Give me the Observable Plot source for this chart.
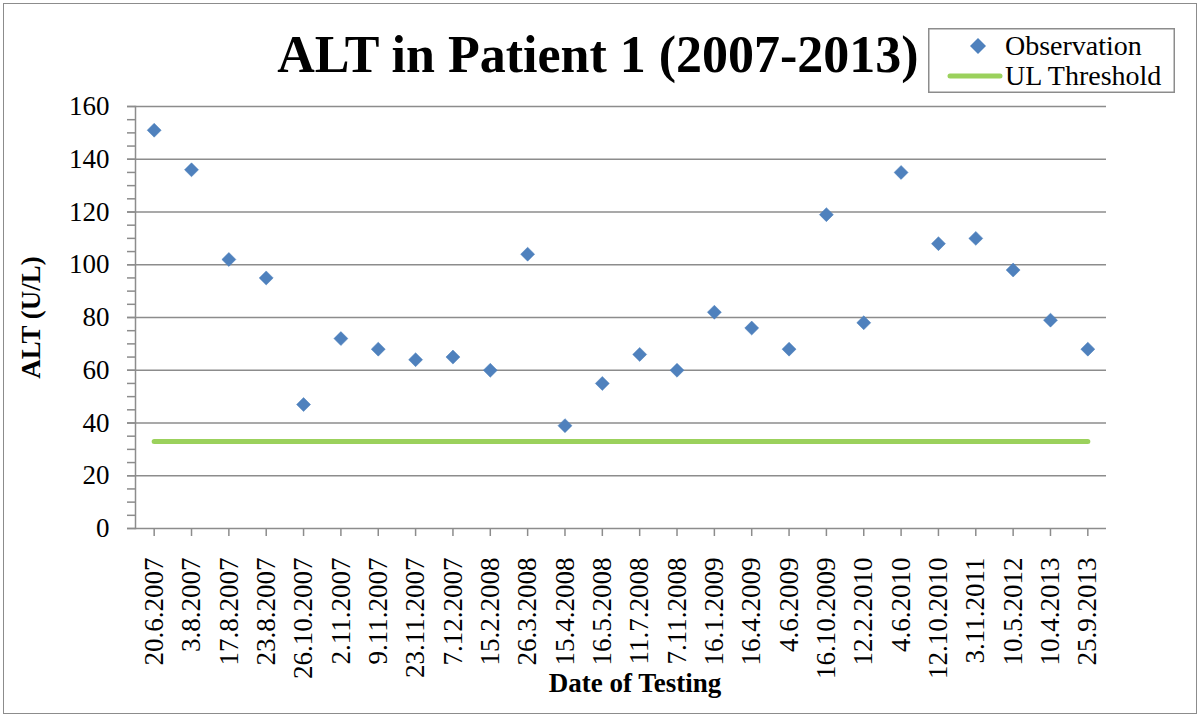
<!DOCTYPE html>
<html>
<head>
<meta charset="utf-8">
<script src="https://cdn.jsdelivr.net/npm/d3@7"></script>
<script src="https://cdn.jsdelivr.net/npm/@observablehq/plot@0.6"></script>
<style>
  body { margin: 0; background: #fff; }
  #wrap { position: relative; width: 1200px; height: 717px; font-family: "Liberation Serif", serif; overflow: hidden; }
  #border { position: absolute; left: 3px; top: 3px; width: 1194px; height: 711px; border: 1.5px solid #8c8c8c; box-sizing: border-box; pointer-events: none; }
  #title { position: absolute; left: 0; top: 29px; width: 1196px; text-align: center; font-weight: bold; font-size: 52px; line-height: 52px; white-space: nowrap; }
  #legend { position: absolute; left: 928px; top: 28px; }
  #chart { position: absolute; left: 0; top: 0; }
  #chart svg [aria-label="y-axis label"] text { font-weight: bold; }
</style>
</head>
<body>
<div id="wrap">
  <div id="chart"></div>
  <div id="title">ALT in Patient 1 (2007-2013)</div>
  <div id="legend"></div>
  <div id="border"></div>
</div>
<script>
const dates = ["20.6.2007","3.8.2007","17.8.2007","23.8.2007","26.10.2007","2.11.2007","9.11.2007","23.11.2007","7.12.2007","15.2.2008","26.3.2008","15.4.2008","16.5.2008","11.7.2008","7.11.2008","16.1.2009","16.4.2009","4.6.2009","16.10.2009","12.2.2010","4.6.2010","12.10.2010","3.11.2011","10.5.2012","10.4.2013","25.9.2013"];
const altValues = [151,136,102,95,47,72,68,64,65,60,104,39,55,66,60,82,76,68,119,78,135,108,110,98,79,68];
const threshold = 33;
const yTicks = [0,20,40,60,80,100,120,140,160];
const yMinorTicks = [0,5,10,15,20,25,30,35,40,45,50,55,60,65,70,75,80,85,90,95,100,105,110,115,120,125,130,135,140,145,150,155,160];
const seriesNames = ["Observation","UL Threshold"];
const xLabel = "Date of Testing";
const colors = ["#4F81BD","#9BD15C"];

const obs = dates.map((d, i) => ({date: d, alt: altValues[i]}));
const thr = dates.map(d => ({date: d, value: threshold}));

const axisGray = "#8c8c8c";

const chart = Plot.plot({
  width: 1200,
  height: 717,
  marginLeft: 135,
  marginRight: 94,
  marginTop: 106,
  marginBottom: 189,
  style: {fontFamily: "Liberation Serif, serif", fontSize: "27px", color: "#000", background: "transparent"},
  x: {type: "point", domain: dates, padding: 0.5, round: false},
  y: {domain: [0, 160]},
  marks: [
    Plot.gridY(yTicks, {stroke: axisGray, strokeOpacity: 1, strokeWidth: 1.5}),
    Plot.frame({anchor: "left", stroke: axisGray, strokeWidth: 1.5}),
    Plot.axisY(yMinorTicks, {tickSize: 8, text: null, stroke: axisGray, strokeWidth: 1.5, label: null}),
    Plot.axisY(yTicks, {tickSize: 8, tickPadding: 18, stroke: axisGray, strokeWidth: 1.5,
      label: "ALT (U/L)", labelAnchor: "center", labelOffset: 115, labelArrow: "none", fontSize: 27}),
    Plot.axisX({tickSize: 8, tickPadding: 21, tickRotate: -90, stroke: axisGray, strokeWidth: 1.5,
      label: null, fontSize: 27}),
    Plot.text([xLabel], {frameAnchor: "bottom", dx: 14, dy: 155, lineAnchor: "middle",
      fontWeight: "bold", fontSize: 27, fill: "#000"}),
    Plot.line(thr, {x: "date", y: "value", stroke: colors[1], strokeWidth: 5, strokeLinecap: "round"}),
    Plot.dot(obs, {x: "date", y: "alt", symbol: "diamond2", r: 6.3, fill: colors[0], stroke: "#4A7EBB", strokeWidth: 0.5})
  ]
});
document.getElementById("chart").appendChild(chart);

// legend
const lg = d3.select("#legend").append("svg").attr("width", 247).attr("height", 65);
lg.append("rect").attr("x", 0.75).attr("y", 0.75).attr("width", 245.5).attr("height", 63.5)
  .attr("fill", "#fff").attr("stroke", axisGray).attr("stroke-width", 1.5);
lg.append("path").attr("d", "M50,10 L58,18 L50,26 L42,18 Z").attr("fill", colors[0]);
lg.append("line").attr("x1", 22).attr("x2", 72).attr("y1", 48).attr("y2", 48)
  .attr("stroke", colors[1]).attr("stroke-width", 5).attr("stroke-linecap", "round");
lg.append("text").attr("x", 77).attr("y", 27).text(seriesNames[0])
  .attr("font-family", "Liberation Serif, serif").attr("font-size", 28);
lg.append("text").attr("x", 77).attr("y", 57).text(seriesNames[1])
  .attr("font-family", "Liberation Serif, serif").attr("font-size", 28);
</script>
</body>
</html>
